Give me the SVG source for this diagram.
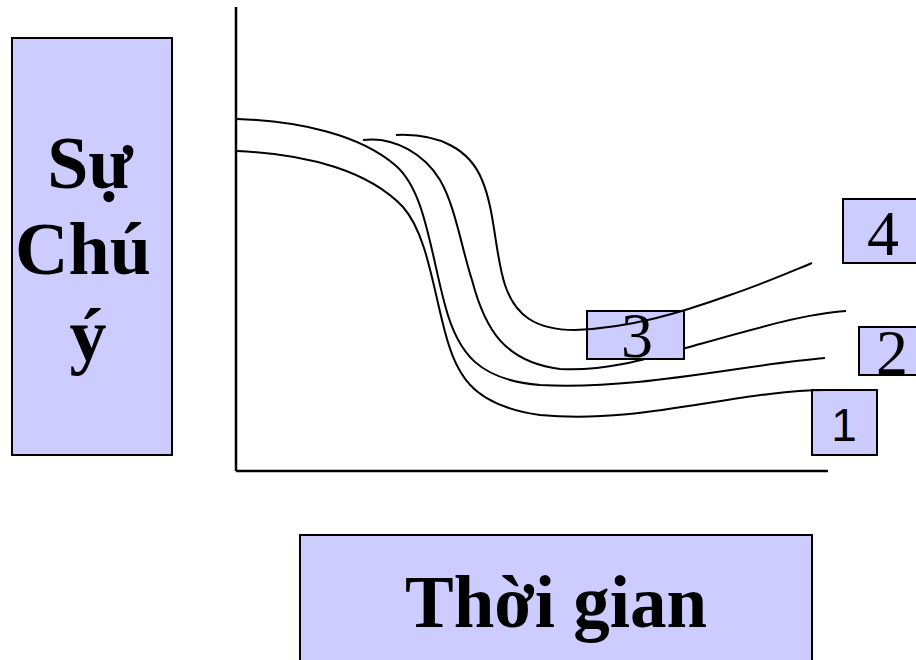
<svg xmlns="http://www.w3.org/2000/svg" width="916" height="660" viewBox="0 0 916 660">
<style>
.box{fill:#CCCCFF;stroke:#000;stroke-width:2}
.big{font-family:"Liberation Serif","Times New Roman",serif;font-weight:bold;font-size:73px;fill:#000;text-anchor:middle}
.lbl{font-family:"Liberation Serif","Times New Roman",serif;font-weight:bold;font-size:74px;fill:#000;text-anchor:middle}
.num{font-family:"Liberation Serif","Times New Roman",serif;font-size:64px;fill:#000;text-anchor:middle}
.nums{font-family:"Liberation Sans",Arial,sans-serif;font-size:46px;fill:#000;text-anchor:middle}
.crv{fill:none;stroke:#000;stroke-width:2}
.axis{fill:none;stroke:#000;stroke-width:2.5}
</style>
<defs>
<mask id="hide3" maskUnits="userSpaceOnUse" x="0" y="0" width="916" height="660">
<rect x="0" y="0" width="916" height="660" fill="#fff"/>
<rect x="587" y="311" width="97" height="48" fill="#000"/>
</mask>
</defs>
<rect width="916" height="660" fill="#fff"/>
<g id="axes">
<line class="axis" x1="236" y1="7" x2="236" y2="471"/>
<line class="axis" x1="236" y1="471" x2="828" y2="471"/>
</g>
<g id="node-su-chu-y">
<rect class="box" x="12" y="38" width="160" height="417"/>
<text class="lbl" x="90" y="188">Sự</text>
<text class="lbl" x="83" y="274">Chú</text>
<text class="lbl" x="88" y="360">ý</text>
</g>
<g id="node-thoi-gian">
<rect class="box" x="300" y="535" width="512" height="140"/>
<text class="big" x="556" y="627">Thời gian</text>
</g>
<g id="node-3">
<rect class="box" x="587" y="311" width="97" height="48"/>
<text class="num" x="637" y="357">3</text>
</g>
<g id="node-4">
<rect class="box" x="843" y="199" width="80" height="64"/>
<text class="num" x="883" y="255">4</text>
</g>
<g id="node-2">
<rect class="box" x="859" y="327" width="70" height="48"/>
<text class="num" x="892" y="374">2</text>
</g>
<g id="node-1">
<rect class="box" x="812" y="390" width="65" height="65"/>
<text class="nums" x="844" y="441">1</text>
</g>
<g id="connectors">
<path class="crv" d="M237,151 C310,154 370,172 403,207 C425,232 432,280 442,320 C455,375 470,405 540,415 C640,425 740,390 825,390"/>
<path class="crv" d="M237,119 C300,121 360,135 395,165 C425,190 430,250 445,305 C458,355 480,380 540,385 C640,390 740,365 825,358"/>
<path class="crv" mask="url(#hide3)" d="M363,140 C395,136 425,155 440,180 C455,205 462,250 472,280 C485,330 505,362 560,369 C610,372 660,355 700,344 C760,327 810,313 846,311"/>
<path class="crv" d="M396,135 C440,133 470,150 482,180 C495,210 495,255 505,285 C515,315 535,330 575,330 C630,328 680,313 730,295 C760,285 790,272 812,263"/>
</g>
</svg>
